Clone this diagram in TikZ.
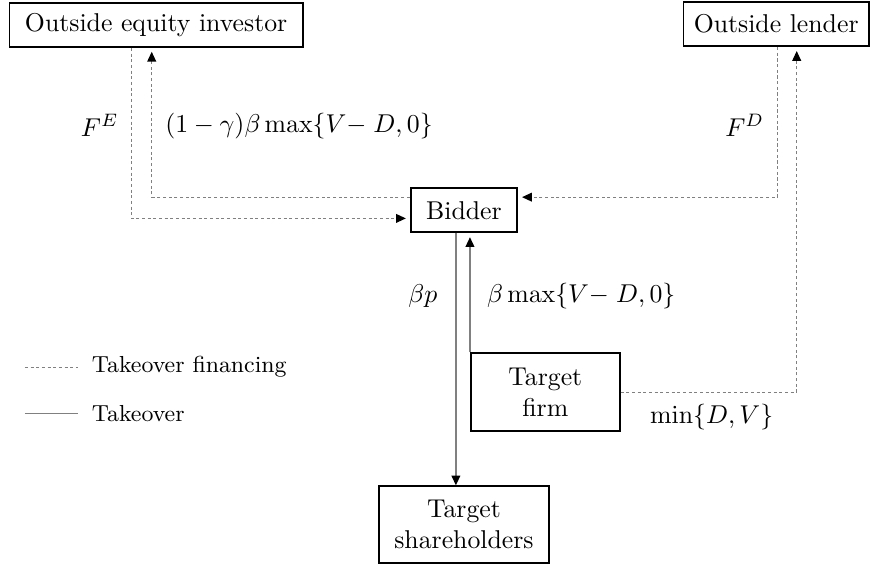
\documentclass[tikz,border=0pt]{standalone}
\usetikzlibrary{arrows.meta}
\begin{document}
\begin{tikzpicture}[
    box/.style={draw, line width=0.75pt, inner xsep=6pt, inner ysep=3pt, minimum height=0.6cm},
    fin/.style={gray, line width=0.45pt, dash pattern=on 1.2pt off 1pt},
    tko/.style={gray, line width=0.6pt},
    tip/.style={-{Triangle[length=3.8pt,width=3.4pt,color=black]}, shorten >=1.5pt}
]
\useasboundingbox (0,0) rectangle (11.87,7.71);

\node[box] (equity) at (2.13,7.37) {Outside equity investor};
\node[box, inner xsep=4pt] (lender) at (10.59,7.38) {Outside lender};
\node[box] (bidder) at (6.33,4.84) {Bidder};
\node[box, align=center, minimum width=2.03cm, minimum height=1.06cm] (firm) at (7.44,2.36) {Target\\firm};
\node[box, align=center, minimum height=1.05cm] (holders) at (6.33,0.55) {Target\\shareholders};

% financing
\draw[fin, tip] ([xshift=-0.34cm]equity.south) |- ([yshift=-0.11cm]bidder.west);
\draw[fin, tip] ([yshift=0.18cm]bidder.west) -| ([xshift=-0.06cm]equity.south);
\draw[fin, tip] ([xshift=0.02cm]lender.south) |- ([yshift=0.18cm]bidder.east);
\draw[fin, tip] (firm.east) -| ([xshift=0.28cm]lender.south);

% takeover
\draw[tko, tip, shorten >=0pt] ([xshift=-0.11cm]bidder.south) -- ([xshift=-0.11cm]holders.north);
\draw[tko, tip] (firm.north west) -- (firm.north west |- bidder.south);

\node (fe) at (1.36,6.0) {$F^E$};
\node (repay) at (4.08,5.99) {$(1-\gamma)\beta\max\{V{-}\;D,0\}$};
\node (fd) at (10.16,6.0) {$F^D$};
\node (price) at (5.77,3.67) {$\beta p$};
\node (gain) at (7.93,3.67) {$\beta\max\{V{-}\;D,0\}$};
\node (debt) at (9.71,2.02) {$\min\{D,V\}$};

% legend
\draw[fin] (0.34,2.70) -- (1.06,2.70);
\node[anchor=west, font=\small] (lfin) at (1.13,2.70) {Takeover financing};
\draw[tko] (0.34,2.07) -- (1.06,2.07);
\node[anchor=west, font=\small] (ltko) at (1.13,2.07) {Takeover};

\end{tikzpicture}
\end{document}
